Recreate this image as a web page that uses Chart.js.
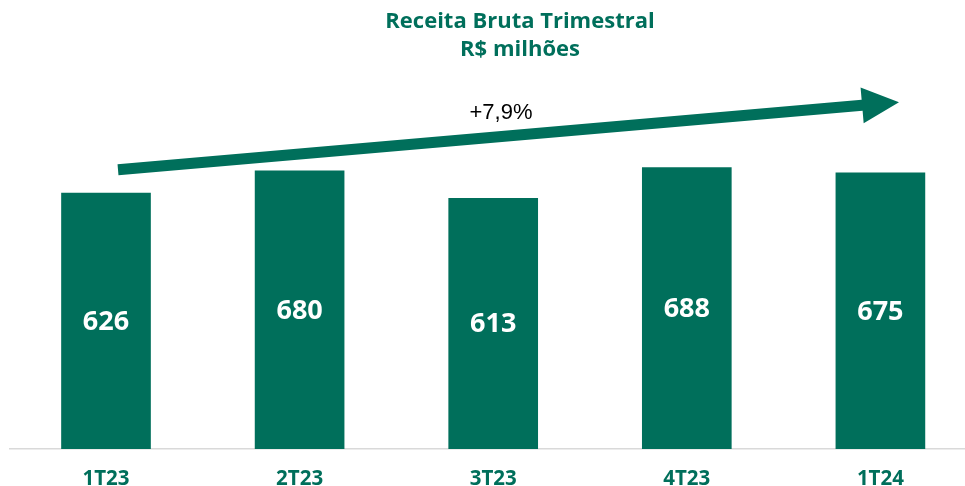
<!DOCTYPE html>
<html>
<head>
<meta charset="utf-8">
<script src="https://cdn.jsdelivr.net/npm/chart.js@4"></script>
<style>
  html, body { margin: 0; padding: 0; background: #fff; }
  #wrap { width: 965px; height: 486px; }
</style>
</head>
<body>
<div id="wrap"><canvas id="chart-bars" width="965" height="486"></canvas></div>
<script>
// data
const categories = ["1T23", "2T23", "3T23", "4T23", "1T24"];
const values = [626, 680, 613, 688, 675];
const titleLines = ["Receita Bruta Trimestral", "R$ milhões"];
const growthLabel = "+7,9%";

const green = "#006f5b";

// arrow + title + value labels
const extras = {
    id: "extras",
    afterDatasetsDraw(chart) {
        const c = chart.ctx;
        const xs = chart.scales.x, ys = chart.scales.y;

        // value labels in the middle of each bar
        const meta = chart.getDatasetMeta(0);
        c.save();
        c.fillStyle = "#fff";
        c.font = "bold 27px 'Open Sans'";
        c.textAlign = "center";
        c.textBaseline = "middle";
        meta.data.forEach((bar, i) => {
            c.fillText(values[i], bar.x, (bar.y + bar.base) / 2 + 1);
        });
        c.restore();

        // trend arrow
        const x0 = xs.getPixelForValue(0.062), y0 = ys.getPixelForValue(683);
        const x1 = xs.getPixelForValue(4.096), y1 = ys.getPixelForValue(848);
        const ang = Math.atan2(y1 - y0, x1 - x0);
        const headLen = 37, headHalf = 18, shaft = 11;
        const bx = x1 - headLen * Math.cos(ang), by = y1 - headLen * Math.sin(ang);
        const nx = -Math.sin(ang), ny = Math.cos(ang);
        c.save();
        c.fillStyle = green;
        c.beginPath();
        c.moveTo(x0 + nx * shaft / 2, y0 + ny * shaft / 2);
        c.lineTo(bx + nx * shaft / 2, by + ny * shaft / 2);
        c.lineTo(bx + nx * headHalf, by + ny * headHalf);
        c.lineTo(x1, y1);
        c.lineTo(bx - nx * headHalf, by - ny * headHalf);
        c.lineTo(bx - nx * shaft / 2, by - ny * shaft / 2);
        c.lineTo(x0 - nx * shaft / 2, y0 - ny * shaft / 2);
        c.closePath();
        c.fill();

        c.fillStyle = "#000";
        c.font = "22px 'Liberation Sans'";
        c.textAlign = "center";
        c.textBaseline = "middle";
        c.fillText(growthLabel, 501, 113);

        // title
        c.fillStyle = green;
        c.font = "bold 22px 'Open Sans'";
        c.fillText(titleLines[0], 520, 22);
        c.fillText(titleLines[1], 520, 50);
        c.restore();
    }
};

const chartCfg = {
    type: "bar",
    data: {
        datasets: [{
            data: values.map((v, i) => ({ x: i, y: v })),
            backgroundColor: green,
            borderWidth: 0,
            barThickness: 89
        }]
    },
    options: {
        responsive: false,
        animation: false,
        layout: { padding: { left: 10, right: 0, top: 40, bottom: 0 } },
        plugins: {
            legend: { display: false },
            tooltip: { enabled: false }
        },
        scales: {
            x: {
                type: "linear",
                offset: false,
                min: -0.4959,
                max: 4.437,
                afterFit: (s) => { s.height = 37; },
                grid: { display: false, drawTicks: false },
                border: { display: true, color: "#d9d9d9", width: 1.5 },
                ticks: {
                    stepSize: 1,
                    includeBounds: false,
                    autoSkip: false,
                    maxRotation: 0,
                    padding: 18,
                    color: green,
                    font: { family: "Open Sans", size: 20.5, weight: "bold" },
                    callback: (v) => Number.isInteger(v) ? categories[v] : ""
                }
            },
            y: {
                display: false,
                min: 0,
                max: 1000
            }
        }
    },
    plugins: [extras]
};

const ctx = document.getElementById("chart-bars").getContext("2d");
const chart1 = new Chart(ctx, chartCfg);
</script>
</body>
</html>
